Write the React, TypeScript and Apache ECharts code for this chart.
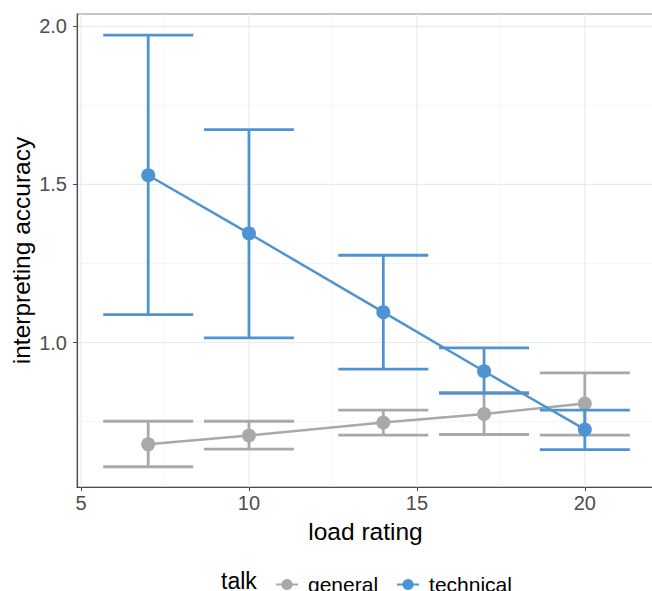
import React, { useEffect, useRef } from 'react';
import * as echarts from 'echarts';

const loadRating = [7, 10, 14, 17, 20];
const generalMean = [0.678, 0.706, 0.747, 0.774, 0.807];
const generalLow = [0.607, 0.663, 0.707, 0.709, 0.707];
const generalHigh = [0.751, 0.751, 0.786, 0.842, 0.904];
const technicalMean = [1.529, 1.345, 1.096, 0.909, 0.725];
const technicalLow = [1.0885, 1.0145, 0.916, 0.839, 0.661];
const technicalHigh = [1.972, 1.673, 1.276, 0.983, 0.786];
const xTicks = [5, 10, 15, 20];
const yTicks = [1.0, 1.5, 2.0];
const xMinor = [7.5, 12.5, 17.5];
const yMinor = [0.75, 1.25, 1.75];
const groups = ['general', 'technical'];

const GRAY = '#a9a9a9';
const BLUE = '#4f94d2';
const FONT = 'Liberation Sans, Arial, sans-serif';
const CAP_HALF = 1.34;

function errRender(color: string) {
  return (params: any, api: any) => {
    const x = api.value(0);
    const lo = api.value(1);
    const hi = api.value(2);
    const pLo = api.coord([x, lo]);
    const pHi = api.coord([x, hi]);
    const l = api.coord([x - CAP_HALF, lo])[0];
    const r = api.coord([x + CAP_HALF, lo])[0];
    const style = { stroke: color, lineWidth: 2.8, fill: null };
    return {
      type: 'group',
      children: [
        { type: 'line', shape: { x1: pLo[0], y1: pLo[1], x2: pHi[0], y2: pHi[1] }, style },
        { type: 'line', shape: { x1: l, y1: pLo[1], x2: r, y2: pLo[1] }, style },
        { type: 'line', shape: { x1: l, y1: pHi[1], x2: r, y2: pHi[1] }, style },
      ],
    };
  };
}

function gridRender(params: any, api: any) {
  const cs = params.coordSys;
  const children: any[] = [];
  const vLine = (v: number, color: string, w: number) => {
    const x = api.coord([v, 1])[0];
    children.push({
      type: 'line',
      shape: { x1: x, y1: cs.y, x2: x, y2: cs.y + cs.height },
      style: { stroke: color, lineWidth: w },
    });
  };
  const hLine = (v: number, color: string, w: number) => {
    const y = api.coord([10, v])[1];
    children.push({
      type: 'line',
      shape: { x1: cs.x, y1: y, x2: cs.x + cs.width, y2: y },
      style: { stroke: color, lineWidth: w },
    });
  };
  xMinor.forEach((v) => vLine(v, '#f4f4f4', 0.8));
  yMinor.forEach((v) => hLine(v, '#f4f4f4', 0.8));
  xTicks.forEach((v) => vLine(v, '#ebebeb', 1.2));
  yTicks.forEach((v) => hLine(v, '#ebebeb', 1.2));
  return { type: 'group', children };
}

export default function App() {
  const ref = useRef<HTMLDivElement>(null);
  useEffect(() => {
    if (!ref.current) return;
    const chart = echarts.init(ref.current, null, { renderer: 'svg' });
    chart.setOption({
      animation: false,
      textStyle: { fontFamily: FONT },
      grid: {
        left: 77,
        top: 14,
        right: -2,
        bottom: 104,
        outerBoundsMode: 'none',
        containLabel: false,
        show: true,
        borderColor: '#b3b3b3',
        borderWidth: 1.5,
        backgroundColor: '#ffffff',
      },
      xAxis: {
        type: 'value',
        min: 4.88,
        max: 22.06,
        name: 'load rating',
        nameLocation: 'middle',
        nameGap: 32,
        nameTextStyle: { fontSize: 24.5, color: '#000000', fontFamily: FONT },
        axisLine: { show: true, lineStyle: { color: '#4d4d4d', width: 1.2 } },
        axisTick: { show: true, customValues: xTicks, length: 4, lineStyle: { color: '#4d4d4d' } },
        axisLabel: { customValues: xTicks, fontSize: 20, color: '#4d4d4d', margin: 6, fontFamily: FONT },
        splitLine: { show: false },
      },
      yAxis: {
        type: 'value',
        min: 0.543,
        max: 2.039,
        name: 'interpreting accuracy',
        nameLocation: 'middle',
        nameGap: 43,
        nameMoveOverlap: false,
        nameTextStyle: { fontSize: 24.5, color: '#000000', fontFamily: FONT },
        axisLine: { show: true, lineStyle: { color: '#4d4d4d', width: 1.2 } },
        axisTick: { show: true, customValues: yTicks, length: 4, lineStyle: { color: '#4d4d4d' } },
        axisLabel: {
          customValues: yTicks,
          fontSize: 20,
          color: '#4d4d4d',
          margin: 10,
          fontFamily: FONT,
          formatter: (v: number) => v.toFixed(1),
        },
        splitLine: { show: false },
      },
      legend: {
        data: groups,
        left: 270,
        top: 569,
        itemWidth: 22,
        itemHeight: 14,
        itemGap: 18,
        textStyle: { fontSize: 21, color: '#000000', fontFamily: FONT, padding: [0, 0, 0, 5] },
      },
      graphic: [
        {
          type: 'text',
          left: 221,
          top: 569,
          style: { text: 'talk', fontSize: 23, fill: '#000000', fontFamily: FONT },
        },
      ],
      series: [
        {
          name: 'gridlines',
          type: 'custom',
          silent: true,
          renderItem: gridRender,
          data: [[10, 1]],
          encode: { x: 0, y: 1 },
          z: 0,
        },
        {
          name: 'general-errorbar',
          type: 'custom',
          renderItem: errRender(GRAY),
          data: loadRating.map((x, i) => [x, generalLow[i], generalHigh[i]]),
          encode: { x: 0, y: [1, 2] },
          z: 2,
        },
        {
          name: 'general',
          type: 'line',
          data: loadRating.map((x, i) => [x, generalMean[i]]),
          symbol: 'circle',
          symbolSize: 14,
          itemStyle: { color: GRAY },
          lineStyle: { color: GRAY, width: 2.5 },
          z: 3,
        },
        {
          name: 'technical-errorbar',
          type: 'custom',
          renderItem: errRender(BLUE),
          data: loadRating.map((x, i) => [x, technicalLow[i], technicalHigh[i]]),
          encode: { x: 0, y: [1, 2] },
          z: 4,
        },
        {
          name: 'technical',
          type: 'line',
          data: loadRating.map((x, i) => [x, technicalMean[i]]),
          symbol: 'circle',
          symbolSize: 14,
          itemStyle: { color: BLUE },
          lineStyle: { color: BLUE, width: 2.5 },
          z: 5,
        },
      ],
    });
    return () => chart.dispose();
  }, []);
  return (
    <div
      ref={ref}
      style={{ position: 'absolute', left: 0, top: 0, width: 652, height: 591, background: '#ffffff' }}
    />
  );
}
